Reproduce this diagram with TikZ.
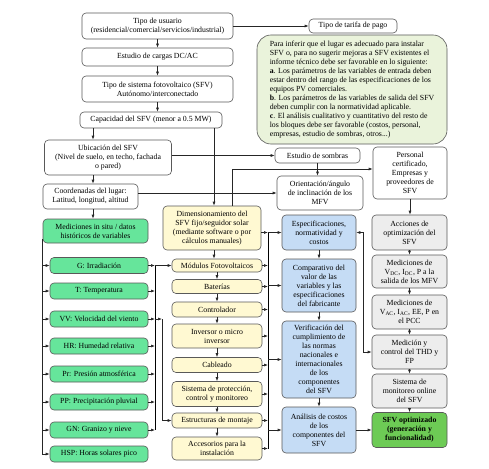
\documentclass[tikz,border=0pt]{standalone}
\usepackage{fontspec}
\setmainfont{Liberation Serif}
\usetikzlibrary{arrows.meta}
\definecolor{verde}{HTML}{66E59B}
\definecolor{crema}{HTML}{FFF9D2}
\definecolor{azul}{HTML}{C5DCF5}
\definecolor{gris}{HTML}{EDEDED}
\definecolor{nota}{HTML}{EAF3DB}
\definecolor{final}{HTML}{6DCB55}
\begin{document}
\begin{tikzpicture}[x=1pt,y=-1pt,line width=0.6pt,
  caja/.style={draw=black!65,rounded corners=4pt,align=center,inner sep=1pt,font=\fontsize{7.8}{9}\selectfont},
  blanca/.style={caja,fill=white},
  medida/.style={caja,fill=verde,minimum width=98pt,minimum height=16pt},
  componente/.style={caja,fill=crema,minimum width=90pt},
  evaluacion/.style={caja,fill=azul,minimum width=74pt},
  optimiza/.style={caja,fill=gris,minimum width=75pt},
  flecha/.style={-{Latex[length=4pt,width=3pt]},black!85},
  flechas/.style={{Latex[length=4pt,width=3pt]}-{Latex[length=4pt,width=3pt]},black!85}]
\useasboundingbox (0,0) rectangle (489,468);

\node[blanca,minimum width=151pt,minimum height=26pt] (usr) at (157.5,26) {Tipo de usuario\\(residencial/comercial/servicios/industrial)};
\node[blanca,minimum width=151pt,minimum height=18pt] (car) at (157.5,57) {Estudio de cargas DC/AC};
\node[blanca,minimum width=151pt,minimum height=26pt] (sis) at (157.5,89) {Tipo de sistema fotovoltaico (SFV)\\Autónomo/interconectado};
\node[blanca,minimum width=142pt,minimum height=16pt] (cap) at (151,120) {Capacidad del SFV (menor a 0.5 MW)};
\node[blanca,minimum width=127pt,minimum height=35pt] (ubi) at (108,157.5) {Ubicación del SFV\\(Nivel de suelo, en techo, fachada\\o pared)};
\node[blanca,minimum width=95pt,minimum height=25pt] (coo) at (90.5,196.5) {Coordenadas del lugar:\\Latitud, longitud, altitud};
\node[blanca,minimum width=88pt,minimum height=14pt] (tar) at (353,26) {Tipo de tarifa de pago};
\node[caja,fill=nota,rounded corners=14pt,align=left,inner sep=3pt,minimum width=190pt,minimum height=109pt] (not) at (352,89.5) {Para inferir que el lugar es adecuado para instalar\\SFV o, para no sugerir mejoras a SFV existentes el\\informe técnico debe ser favorable en lo siguiente:\\\textbf{a}. Los parámetros de las variables de entrada deben\\estar dentro del rango de las especificaciones de los\\equipos PV comerciales.\\\textbf{b}. Los parámetros de las variables de salida del SFV\\deben cumplir con la normatividad aplicable.\\\textbf{c}. El análisis cualitativo y cuantitativo del resto de\\los bloques debe ser favorable (costos, personal,\\empresas, estudio de sombras, otros...)};
\node[blanca,minimum width=85pt,minimum height=15pt] (som) at (317.5,155.5) {Estudio de sombras};
\node[blanca,minimum width=74pt,minimum height=52pt] (per) at (410,173) {Personal\\certificado,\\Empresas y\\proveedores de\\SFV};
\node[blanca,minimum width=86pt,minimum height=34pt] (ori) at (320,193) {Orientación/ángulo\\de inclinación de los\\MFV};

\node[caja,fill=verde,minimum width=105pt,minimum height=24pt] (med) at (95.5,231) {Mediciones in situ / datos\\históricos de variables};
\node[medida] (g) at (99,265.5) {G: Irradiación};
\node[medida] (t) at (99,291) {T: Temperatura};
\node[medida] (vv) at (99,319) {VV: Velocidad del viento};
\node[medida] (hr) at (99,346) {HR: Humedad relativa};
\node[medida] (pr) at (99,374) {Pr: Presión atmosférica};
\node[medida] (pp) at (99,402) {PP: Precipitación pluvial};
\node[medida] (gn) at (99,430) {GN: Granizo y nieve};
\node[medida] (hsp) at (99,454) {HSP: Horas solares pico};

\node[componente,minimum width=98pt,minimum height=44pt] (dim) at (212,228) {Dimensionamiento del\\SFV fijo/seguidor solar\\(mediante software o por\\cálculos manuales)};
\node[componente,minimum height=13pt] (mod) at (217,265.5) {Módulos Fotovoltaicos};
\node[componente,minimum height=14pt] (bat) at (217,286.5) {Baterías};
\node[componente,minimum height=15pt] (con) at (217,309.5) {Controlador};
\node[componente,minimum height=24pt] (inv) at (217,336) {Inversor o micro\\inversor};
\node[componente,minimum height=15pt] (cab) at (217,365) {Cableado};
\node[componente,minimum height=25pt] (pro) at (217,394) {Sistema de protección,\\control y monitoreo};
\node[componente,minimum height=15pt] (est) at (217,420.5) {Estructuras de montaje};
\node[componente,minimum height=23pt] (acc) at (217,448.5) {Accesorios para la\\instalación};

\node[evaluacion,minimum height=35pt] (esp) at (319,232.5) {Especificaciones,\\normatividad y\\costos};
\node[evaluacion,minimum height=53pt] (com) at (319,285.5) {Comparativo del\\valor de las\\variables y las\\especificaciones\\del fabricante};
\node[evaluacion,minimum height=77pt] (ver) at (319,359.5) {Verificación del\\cumplimiento de\\las normas\\nacionales e\\internacionales\\de los\\componentes\\del SFV};
\node[evaluacion,minimum height=46pt] (ana) at (319,430) {Análisis de costos\\de los\\componentes del\\SFV};

\node[optimiza,minimum height=35pt] (aco) at (409.5,232.5) {Acciones de\\optimización del\\SFV};
\node[optimiza,minimum height=33pt] (mdc) at (409.5,271.5) {Mediciones de\\V\textsubscript{DC}, I\textsubscript{DC}, P a la\\salida de los MFV};
\node[optimiza,minimum height=34pt] (mac) at (409.5,312) {Mediciones de\\V\textsubscript{AC}, I\textsubscript{AC}, EE, P en\\el PCC};
\node[optimiza,minimum height=34pt] (thd) at (409.5,352) {Medición y\\control del THD y\\FP};
\node[optimiza,minimum height=34pt] (mon) at (409.5,391) {Sistema de\\monitoreo online\\del SFV};
\node[caja,fill=final,minimum width=75pt,minimum height=35pt,font=\fontsize{7.8}{9}\selectfont\bfseries] (opt) at (409.5,430) {SFV optimizado\\(generación y\\funcionalidad)};

\coordinate (xa) at (93,0);
\coordinate (xb) at (214,0);
\coordinate (xc) at (232,0);
\coordinate (bv) at (155,0);
\coordinate (bw) at (162,0);
\coordinate (by) at (268,0);

\draw[flecha] (usr) -- (car);
\draw[flecha] (car) -- (sis);
\draw[flecha] (usr.east) -- (tar.west);
\draw[flecha] (sis.south) -- (sis.south |- cap.north);
\draw[flecha] (cap.south -| xa) -- (ubi.north -| xa);
\draw[flecha] (ubi.south -| xa) -- (coo.north -| xa);
\draw[flecha] (coo.south -| xa) -- (med.north -| xa);
\draw[flecha] (cap.south -| xb) -- (dim.north -| xb);
\draw[flecha] (dim.north -| xc) |- ([yshift=4pt]per.west);
\draw[flecha] (som.west -| ubi.east) -- (som.west);
\draw[flecha] (ori.west -| coo.east) -- (ori.west);
\draw[flecha] (som.south) -- (som.south |- ori.north);
\draw[flecha] (per.south) -- (per.south |- aco.north);

\draw[flecha] ([yshift=-8pt]med.west) |- (hsp.west);
\foreach \v in {g,t,vv,hr,pr,pp,gn}
  \draw[flecha] (med.west |- \v.west) -- (\v.west);
\foreach \v in {g,t,vv,hr,pr,pp,gn}
  \draw[flecha] (\v.east) -- (bv |- \v.east);
\draw (bv |- g.east) -- (bv |- gn.east);
\draw[flecha] (bv |- g.east) -- (mod.west);
\draw[flecha] (bv |- vv.east) -- (bw |- vv.east);
\draw[flecha] (bw |- vv.east) |- (est.west);

\draw[flecha] (dim.south -| xb) -- (mod.north -| xb);
\draw[flecha] (mod) -- (bat);
\draw[flecha] (bat) -- (con);
\draw[flecha] (con) -- (inv);
\draw[flecha] (inv) -- (cab);
\draw[flecha] (cab) -- (pro);
\draw[flecha] (pro) -- (est);
\draw[flecha] (est) -- (acc);

\draw[flecha] (dim.east |- esp.west) -- (by |- esp.west);
\foreach \c in {mod,bat,con,inv,cab,pro,est,acc}
  \draw[flecha] (\c.east) -- (by |- \c.east);
\draw (by |- esp.west) -- (by |- acc.east);
\draw[flecha] (by |- esp.west) -- (esp.west);
\draw[flecha] (by |- com.west) -- (com.west);
\draw[flecha] (by |- ver.west) -- (ver.west);
\draw[flecha] (by |- ana.west) -- (ana.west);

\draw[flecha] (esp) -- (com);
\draw[flecha] (com) -- (ver);
\draw[flecha] (ver) -- (ana);
\draw[flecha] (ana) -- (opt);
\draw[flechas] (esp.east) -- ++(7,0) |- (thd.west);

\draw[flecha] (aco) -- (mdc);
\draw[flecha] (mdc) -- (mac);
\draw[flecha] (mac) -- (thd);
\draw[flecha] (thd) -- (mon);
\draw[flecha] (mon) -- (opt);
\end{tikzpicture}
\end{document}
